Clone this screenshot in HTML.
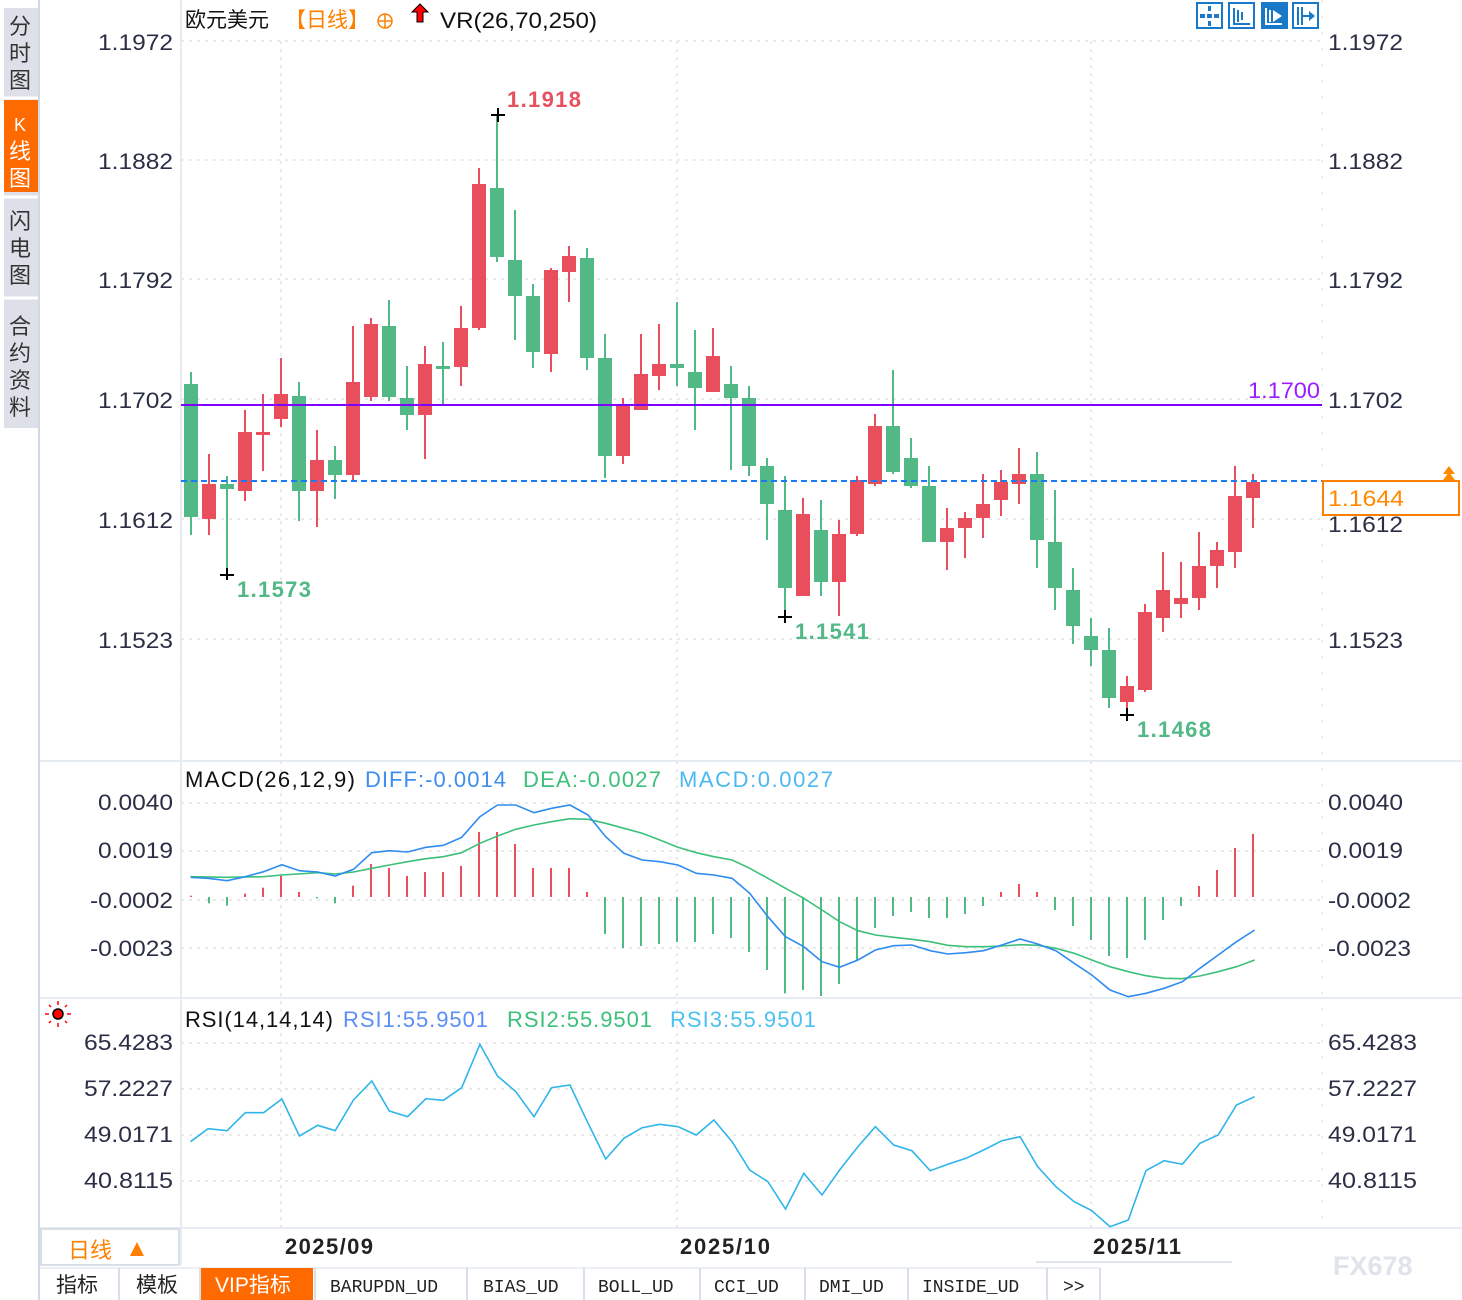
<!DOCTYPE html>
<html><head><meta charset="utf-8">
<style>
html,body{margin:0;padding:0;background:#fff;}
body{width:1462px;height:1300px;position:relative;overflow:hidden;font-family:"Liberation Sans","Noto Sans CJK SC",sans-serif;}
svg{position:absolute;left:0;top:0;}
</style></head><body>
<svg id="s" width="1462" height="1300" xmlns="http://www.w3.org/2000/svg" font-family="Liberation Sans, Noto Sans CJK SC, sans-serif">
<rect x="4" y="8" width="34" height="420" fill="#dde0e8"/>
<rect x="4" y="100" width="34" height="92" fill="#ff6a00"/>
<line x1="4" y1="98" x2="38" y2="98" stroke="#fff" stroke-width="3"/>
<line x1="4" y1="197" x2="38" y2="197" stroke="#fff" stroke-width="3"/>
<line x1="4" y1="298" x2="38" y2="298" stroke="#fff" stroke-width="3"/>
<g font-size="22" fill="#333" text-anchor="middle">
<text x="20" y="34">分</text><text x="20" y="61">时</text><text x="20" y="88">图</text>
<text x="20" y="131" fill="#fff" font-size="18">K</text><text x="20" y="159" fill="#fff">线</text><text x="20" y="186" fill="#fff">图</text>
<text x="20" y="229">闪</text><text x="20" y="256">电</text><text x="20" y="283">图</text>
<text x="20" y="334">合</text><text x="20" y="361">约</text><text x="20" y="388">资</text><text x="20" y="415">料</text>
</g>
<line x1="39" y1="0" x2="39" y2="1300" stroke="#d0dae4" stroke-width="2"/>
<line x1="40" y1="761" x2="1462" y2="761" stroke="#e6ecf1" stroke-width="2"/>
<line x1="40" y1="998" x2="1462" y2="998" stroke="#e6ecf1" stroke-width="2"/>
<line x1="40" y1="1228" x2="1462" y2="1228" stroke="#e6ecf1" stroke-width="2"/>
<line x1="181" y1="0" x2="181" y2="1265" stroke="#e6ecf1" stroke-width="2"/>
<g id="grid" stroke="#e4e4e4" stroke-width="1.5" stroke-dasharray="3,5"></g>
<g id="plot"></g>
<text x="185" y="27" font-size="21" fill="#111">欧元美元</text>
<text x="285" y="27" font-size="21" fill="#ff7f00">【日线】</text>
<circle cx="385" cy="21" r="7" fill="none" stroke="#ff7f00" stroke-width="1.5"/>
<line x1="378" y1="21" x2="392" y2="21" stroke="#ff7f00" stroke-width="1.5"/><line x1="385" y1="14" x2="385" y2="28" stroke="#ff7f00" stroke-width="1.5"/>
<path d="M420 4 L428 12 L423 12 L423 22 L417 22 L417 12 L412 12 Z" fill="#f00" stroke="#000" stroke-width="1"/>
<text x="440" y="28" font-size="22" fill="#111" textLength="157" lengthAdjust="spacingAndGlyphs">VR(26,70,250)</text>
<g fill="none" stroke="#1a78c8" stroke-width="2">
<rect x="1197" y="3" width="25" height="25"/><rect x="1229" y="3" width="25" height="25"/><rect x="1293" y="3" width="25" height="25"/>
</g>
<rect x="1261" y="2" width="27" height="27" fill="#1a78c8"/>
<g fill="#1a78c8"><rect x="1207" y="14" width="5" height="4"/><rect x="1200" y="14" width="5" height="4"/><rect x="1214" y="14" width="5" height="4"/><rect x="1208" y="6" width="3" height="5"/><rect x="1208" y="21" width="3" height="5"/></g>
<path d="M1234 8 V24 H1250 M1238 10 V22 M1242 12 V20" stroke="#1a78c8" stroke-width="2" fill="none"/>
<path d="M1266 8 V24 H1282 M1270 10 V22" stroke="#fff" stroke-width="2" fill="none"/><path d="M1273 10 L1282 16 L1273 22 Z" fill="#fff"/>
<path d="M1298 7 V25 M1302 7 V25 M1302 16 H1310" stroke="#1a78c8" stroke-width="2" fill="none"/><path d="M1309 11 L1315 16 L1309 21 Z" fill="#1a78c8"/>
<g font-size="22" fill="#2a2f45" id="labels"></g>
<line x1="181" y1="405" x2="1322" y2="405" stroke="#8000ff" stroke-width="2"/>
<text x="1248" y="398" font-size="22" fill="#9b1cff" textLength="72" lengthAdjust="spacingAndGlyphs">1.1700</text>
<line x1="181" y1="481" x2="1322" y2="481" stroke="#1a7cf0" stroke-width="2" stroke-dasharray="6,4"/>
<rect x="1323" y="481" width="136" height="34" fill="#fff" stroke="#ff7f00" stroke-width="2"/>
<text x="1328" y="506" font-size="22" fill="#ff8a00" textLength="76" lengthAdjust="spacingAndGlyphs">1.1644</text>
<path d="M1443 474 L1449 466 L1455 474 Z M1443 480 L1449 472 L1455 480 Z" fill="#ff8a00"/>
<g stroke="#000" stroke-width="2"><path d="M491 115 H505 M498 108 V122"/><path d="M220 575 H234 M227 568 V580"/><path d="M778 617 H792 M785 610 V623"/><path d="M1120 715 H1134 M1127 708 V721"/></g>
<g font-size="22" font-weight="bold" lengthAdjust="spacingAndGlyphs"><text x="507" y="107" fill="#e8505f" textLength="74">1.1918</text><text x="237" y="597" fill="#52b986" textLength="74">1.1573</text><text x="795" y="639" fill="#52b986" textLength="74">1.1541</text><text x="1137" y="737" fill="#52b986" textLength="74">1.1468</text></g>
<g font-size="22" lengthAdjust="spacingAndGlyphs">
<text x="185" y="787" fill="#111" textLength="170">MACD(26,12,9)</text>
<text x="365" y="787" fill="#3d8ef0" textLength="141">DIFF:-0.0014</text>
<text x="523" y="787" fill="#3cc07a" textLength="138">DEA:-0.0027</text>
<text x="679" y="787" fill="#4cb8f0" textLength="154">MACD:0.0027</text>
<text x="185" y="1027" fill="#111" textLength="148">RSI(14,14,14)</text>
<text x="343" y="1027" fill="#5b8ff5" textLength="145">RSI1:55.9501</text>
<text x="507" y="1027" fill="#3cc07a" textLength="145">RSI2:55.9501</text>
<text x="670" y="1027" fill="#4cc0f0" textLength="146">RSI3:55.9501</text>
</g>
<g stroke="#f00" stroke-width="1.5"><circle cx="58" cy="1014" r="5" fill="#f00" stroke="#000"/><path d="M45 1014 H49 M67 1014 H71 M58 1001 V1005 M58 1023 V1027 M49 1005 L51 1007 M67 1005 L65 1007 M49 1023 L51 1021 M67 1023 L65 1021"/></g>
<rect x="41" y="1229" width="138" height="36" fill="#fff" stroke="#d7dfe8" stroke-width="2"/>
<text x="68" y="1258" font-size="22" fill="#ff7f00">日线</text><path d="M130 1256 L137 1242 L144 1256 Z" fill="#ff7f00"/>
<g font-size="22" font-weight="bold" fill="#222" lengthAdjust="spacingAndGlyphs"><text x="285" y="1254" textLength="88">2025/09</text><text x="680" y="1254" textLength="90">2025/10</text><text x="1093" y="1254" textLength="88">2025/11</text></g>
<line x1="1036" y1="1262" x2="1232" y2="1262" stroke="#e0e6ec" stroke-width="2"/>
<text x="1333" y="1275" font-size="27" font-weight="bold" fill="#dfe3ea">FX678</text>
<line x1="40" y1="1268" x2="1100" y2="1268" stroke="#d7dfe8" stroke-width="1"/>
<rect x="200" y="1268" width="113" height="32" fill="#ff6a00"/>
<g stroke="#d7dfe8" stroke-width="2"><path d="M119 1268 V1300 M200 1268 V1300 M315 1268 V1300 M467 1268 V1300 M584 1268 V1300 M700 1268 V1300 M805 1268 V1300 M908 1268 V1300 M1047 1268 V1300 M1100 1268 V1300"/></g>
<g font-size="21" fill="#222" font-family="Liberation Mono, Noto Sans CJK SC, monospace">
<text x="56" y="1292" font-family="Noto Sans CJK SC, sans-serif">指标</text><text x="136" y="1292" font-family="Noto Sans CJK SC, sans-serif">模板</text>
<text x="215" y="1292" fill="#fff" font-family="Liberation Sans, Noto Sans CJK SC, sans-serif">VIP指标</text>
<text x="330" y="1292" font-size="18">BARUPDN_UD</text><text x="483" y="1292" font-size="18">BIAS_UD</text><text x="598" y="1292" font-size="18">BOLL_UD</text><text x="714" y="1292" font-size="18">CCI_UD</text><text x="819" y="1292" font-size="18">DMI_UD</text><text x="922" y="1292" font-size="18">INSIDE_UD</text><text x="1063" y="1292" font-size="18">&gt;&gt;</text>
</g>
</svg>
<script>
var NS="http://www.w3.org/2000/svg";
function el(p,t,a,txt){var e=document.createElementNS(NS,t);for(var k in a)e.setAttribute(k,a[k]);if(txt!==undefined)e.textContent=txt;p.appendChild(e);return e;}
var plot=document.getElementById('plot'),grid=document.getElementById('grid'),lab=document.getElementById('labels');
[41,160,279,399,519,639].forEach(function(y){el(grid,'line',{x1:181,y1:y,x2:1322,y2:y});});
[803,851,900,948].forEach(function(y){el(grid,'line',{x1:181,y1:y,x2:1322,y2:y});});
[1043,1089,1135,1181].forEach(function(y){el(grid,'line',{x1:181,y1:y,x2:1322,y2:y});});
[281,677,1091].forEach(function(x){el(grid,'line',{x1:x,y1:41,x2:x,y2:1228});});
el(grid,'line',{x1:1322,y1:0,x2:1322,y2:1228,'stroke-dasharray':'2,14'});
el(grid,'line',{x1:181,y1:0,x2:181,y2:1228,'stroke-dasharray':'2,14'});
var L=[["1.1972",50],["1.1882",169],["1.1792",288],["1.1702",408],["1.1612",528],["1.1523",648],
["0.0040",810],["0.0019",858],["-0.0002",908],["-0.0023",956],["65.4283",1050],["57.2227",1096],["49.0171",1142],["40.8115",1188]];
L.forEach(function(l){var s=l[0];var w=s.length==6?75:(s.length==7?(s[0]=='-'?83:89):75);
el(lab,'text',{x:173-w,y:l[1],textLength:w,lengthAdjust:'spacingAndGlyphs'},s);
el(lab,'text',{x:1328,y:l[1]+(s=="1.1612"?4:0),textLength:w,lengthAdjust:'spacingAndGlyphs'},s);});
var C=[[372,384,517,535,0],[454,484,519,535,1],[476,484,489,574,0],[410,432,491,501,1],[394,432,435,471,1],[358,394,419,427,1],[382,396,491,521,0],[430,460,491,527,1],[446,460,475,499,0],[326,382,475,480,1],[318,324,397,401,1],[300,326,397,401,0],[366,398,415,430,0],[346,364,415,459,1],[342,366,369,404,0],[306,328,367,386,1],[168,184,328,330,1],[115,188,257,262,0],[210,260,296,340,0],[284,296,352,368,0],[268,270,354,372,1],[246,256,272,302,1],[248,258,358,370,0],
[334,358,456,478,0],[398,404,456,464,1],[334,374,410,410,1],[324,364,376,390,1],[302,364,368,386,0],[330,372,388,430,0],[328,356,392,392,1],[366,384,398,470,0],[386,398,466,476,0],[458,466,504,540,0],[476,510,588,617,0],[498,514,596,596,1],[500,530,582,596,0],[520,534,582,616,1],[476,480,534,536,1],[414,426,484,486,1],[370,426,472,474,0],[438,458,486,488,0],[466,486,542,542,0],[508,528,542,570,1],[512,518,528,558,1],
[474,504,518,538,1],[470,482,500,516,1],[448,474,484,504,1],[452,474,540,568,0],[490,542,588,610,0],[568,590,626,644,0],[618,636,650,666,0],[628,650,698,708,0],[676,686,702,715,1],[604,612,690,692,1],[552,590,618,632,1],[562,598,604,618,1],[532,566,598,610,1],[542,550,566,588,1],[466,496,552,568,1],[474,482,498,528,1]];
var RED="#e94e5d",GRN="#52b986";
C.forEach(function(c,i){var x=191+18*i,col=c[4]?RED:GRN;
el(plot,'line',{x1:x,y1:c[0],x2:x,y2:c[3],stroke:col,'stroke-width':2});
el(plot,'rect',{x:x-7,y:c[1],width:14,height:Math.max(3,c[2]-c[1]),fill:col});});
var H=[407,430,437,401,383,348,396,415,430,377,312,324,348,336,336,318,216,216,252,324,324,324,396,522,564,558,552,546,546,522,534,576,630,700,690,708,672,600,504,468,456,474,474,462,438,396,372,396,450,498,540,588,594,540,480,438,378,330,264,222];
H.forEach(function(v,i){var x=191+18*i,y0=897,y=760+v/3;el(plot,'line',{x1:x,y1:y0,x2:x,y2:y,stroke:v<410?RED:GRN,'stroke-width':2});});
function pl(pts,yo,col,w){var d=pts.map(function(p,i){return (i?'L':'M')+(180+p[0]/1.4236).toFixed(1)+' '+(yo+p[1]/3).toFixed(1);}).join(' ');el(plot,'path',{d:d,fill:'none',stroke:col,'stroke-width':w});}
var DIFF=[[15,352],[40,355],[67,362],[93,350],[119,335],[145,314],[170,332],[196,336],[221,348],[247,328],[273,278],[298,272],[324,276],[350,262],[375,256],[401,232],[427,170],[452,135],[478,135],[504,158],[529,145],[555,135],[581,165],[606,230],[632,280],[658,300],[683,305],[709,315],[735,340],[760,345],[786,355],[811,400],[837,470],[862,530],[888,560],[914,605],[939,622],[965,600],[990,570],[1016,557],[1042,555],[1068,572],[1093,582],[1119,578],[1144,572],[1170,555],[1196,537],[1221,552],[1247,572],[1273,610],[1298,645],[1324,690],[1350,710],[1375,700],[1401,685],[1427,665],[1452,625],[1478,585],[1504,545],[1530,510]];
var DEA=[[15,350],[67,352],[119,350],[145,345],[196,338],[221,342],[247,336],[273,325],[298,315],[324,305],[350,296],[375,290],[401,278],[427,250],[452,228],[478,208],[504,195],[529,185],[555,176],[581,178],[606,190],[632,205],[658,220],[683,240],[709,262],[735,278],[760,290],[786,300],[811,325],[837,355],[862,385],[888,415],[914,450],[939,485],[965,512],[990,525],[1016,532],[1042,538],[1068,545],[1093,556],[1119,560],[1144,560],[1170,558],[1196,554],[1221,556],[1247,565],[1273,580],[1298,600],[1324,620],[1350,635],[1375,647],[1401,655],[1427,656],[1452,648],[1478,635],[1504,620],[1530,600]];
pl(DEA,760,"#3cc07a",1.6);pl(DIFF,760,"#2e8cf0",1.6);
var RSI=[[15,425],[40,386],[67,392],[93,338],[119,338],[145,297],[170,408],[196,376],[221,392],[247,300],[273,243],[298,333],[324,350],[350,296],[375,301],[401,263],[427,133],[452,228],[478,275],[504,350],[529,263],[555,255],[581,370],[606,477],[632,415],[658,383],[683,373],[709,380],[735,405],[760,360],[786,425],[811,510],[837,545],[862,627],[888,520],[914,585],[939,510],[965,440],[990,380],[1016,435],[1042,452],[1068,512],[1093,493],[1119,475],[1144,450],[1170,422],[1196,410],[1221,500],[1247,560],[1273,605],[1298,632],[1324,680],[1350,660],[1375,512],[1401,482],[1427,493],[1452,430],[1478,405],[1504,315],[1530,290]];
pl(RSI,1000,"#2fb5ea",1.6);
</script>
</body></html>
